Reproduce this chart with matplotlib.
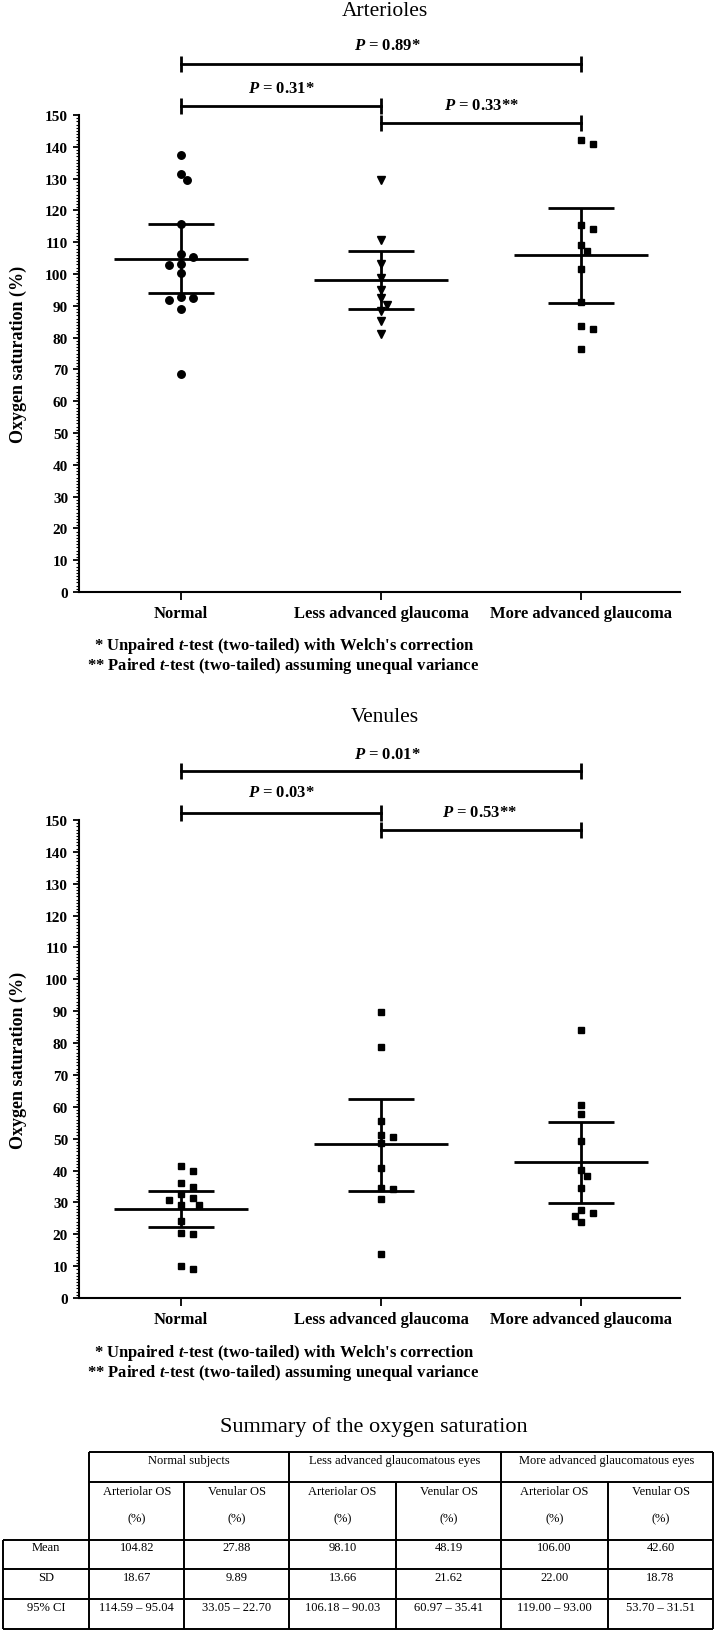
import numpy as np
import matplotlib
matplotlib.use("Agg")
import matplotlib.pyplot as plt
from matplotlib.ticker import MultipleLocator

plt.rcParams['font.family'] = ['Liberation Serif', 'DejaVu Serif']
plt.rcParams['mathtext.fontset'] = 'custom'
plt.rcParams['mathtext.it'] = 'Liberation Serif:italic:bold'
plt.rcParams['mathtext.rm'] = 'Liberation Serif:bold'
plt.rcParams['mathtext.bf'] = 'Liberation Serif:bold'

# ---- data ----
categories = ["Normal", "Less advanced glaucoma", "More advanced glaucoma"]

# arteriolar oxygen saturation (%)
art_normal = [137.4, 131.6, 129.5, 115.7, 106.4, 105.2, 103.3, 102.8, 100.4,
              92.7, 92.3, 91.7, 88.9, 68.4]
art_less = [129.5, 110.7, 103.3, 98.8, 95.0, 92.3, 90.4, 88.3, 85.2, 81.0]
art_more = [142.2, 140.9, 115.3, 114.1, 109.1, 107.2, 101.7, 91.2, 83.6, 82.6, 76.5]
# mean line, lower / upper 95% CI as drawn
art_mean = [104.8, 98.1, 105.9]
art_low = [93.9, 88.9, 91.0]
art_high = [115.7, 107.3, 120.8]
art_pvals = ["$P$ = 0.89*", "$P$ = 0.31*", "$P$ = 0.33**"]

# venular oxygen saturation (%)
ven_normal = [41.4, 39.8, 36.1, 34.7, 32.5, 31.4, 30.9, 29.3, 29.1, 24.2,
              20.4, 20.0, 10.1, 9.2]
ven_less = [89.8, 78.8, 55.6, 51.3, 50.4, 48.7, 40.8, 34.6, 34.1, 31.2, 13.9]
ven_more = [84.0, 60.7, 57.6, 49.2, 40.1, 38.2, 34.6, 27.7, 26.8, 25.7, 23.7]
ven_mean = [28.0, 48.2, 42.6]
ven_low = [22.2, 33.5, 29.9]
ven_high = [33.6, 62.5, 55.3]
ven_pvals = ["$P$ = 0.01*", "$P$ = 0.03*", "$P$ = 0.53**"]

footnotes = [r"* Unpaired $t$-test (two-tailed) with Welch's correction",
             r"** Paired $t$-test (two-tailed) assuming unequal variance"]

# summary table
tab_groups = ["Normal subjects", "Less advanced glaucomatous eyes",
              "More advanced glaucomatous eyes"]
tab_sub = ["Arteriolar OS", "Venular OS"]
tab_rows = ["Mean", "SD", "95% CI"]
tab_mean = ["104.82", "27.88", "98.10", "48.19", "106.00", "42.60"]
tab_sd = ["18.67", "9.89", "13.66", "21.62", "22.00", "18.78"]
tab_ci = ["114.59 \u2013 95.04", "33.05 \u2013 22.70", "106.18 \u2013 90.03",
          "60.97 \u2013 35.41", "119.00 \u2013 93.00", "53.70 \u2013 31.51"]

W, H = 718, 1633


def swarm(vals, yscale, xscale=200.0, diam=8.0, step=0.03):
    # simple dot-plot spreading: put each point as close to centre as it fits
    placed = []
    offs = []
    cands = [0.0]
    for i in range(1, 6):
        cands += [i * step, -i * step]
    for v in vals:
        for c in cands:
            if all(((c - pc) * xscale) ** 2 + ((v - pv) * yscale) ** 2 >= diam ** 2
                   for pc, pv in placed):
                break
        placed.append((c, v))
        offs.append(c)
    return np.array(offs)


def draw_panel(ax, groups, markers, msizes, means, lows, highs, pvals, br_y, txt_pos):
    yscale = 3.18
    for i, (vals, m, s) in enumerate(zip(groups, markers, msizes)):
        dx = swarm(vals, yscale)
        ax.plot(i + dx, vals, m, color='black', ms=s, ls='none', clip_on=False, zorder=3)
    for i in range(3):
        ax.hlines(means[i], i - 0.333, i + 0.333, color='black', lw=2)
        ax.hlines([lows[i], highs[i]], i - 0.163, i + 0.163, color='black', lw=2)
        ax.vlines(i, lows[i], highs[i], color='black', lw=2)
    spans = [(0, 2), (0, 1), (1, 2)]
    for (x0, x1), yb, lab, (tx, ty) in zip(spans, br_y, pvals, txt_pos):
        ax.plot([x0, x1], [yb, yb], color='black', lw=2, clip_on=False)
        ax.vlines([x0, x1], yb - 2.5, yb + 2.5, color='black', lw=2, clip_on=False)
        ax.text(tx, ty, lab, ha='center', va='center', fontsize=12,
                fontweight='bold', clip_on=False)

    ax.set_xlim(-0.5125, 2.495)
    ax.set_ylim(0, 150)
    ax.set_xticks([0, 1, 2])
    ax.set_xticklabels(categories, fontsize=12, fontweight='bold')
    ax.set_yticks(np.arange(0, 151, 10))
    ax.set_yticklabels([str(v) for v in range(0, 151, 10)], fontsize=11, fontweight='bold')
    ax.yaxis.set_minor_locator(MultipleLocator(1))
    ax.tick_params(axis='x', length=6, width=1.3, pad=3.5)
    ax.tick_params(axis='y', which='major', length=4, width=1.3, pad=3.5)
    ax.tick_params(axis='y', which='minor', length=2, width=0.8)
    for s in ['top', 'right']:
        ax.spines[s].set_visible(False)
    for s in ['left', 'bottom']:
        ax.spines[s].set_linewidth(1.5)
    ax.patch.set_alpha(0)


fig = plt.figure(figsize=(W / 100, H / 100), dpi=100)

ax1 = fig.add_axes([78.5 / W, 1 - 593 / H, 601.5 / W, 477 / H])
draw_panel(ax1, [art_normal, art_less, art_more], ['o', 'v', 's'], [5.4, 5.2, 5.0],
           art_mean, art_low, art_high, art_pvals,
           br_y=[166, 152.9, 147.5],
           txt_pos=[(1.03, 172), (0.5, 158.5), (1.5, 153)])

ax2 = fig.add_axes([78.5 / W, 1 - 1299 / H, 601.5 / W, 478 / H])
draw_panel(ax2, [ven_normal, ven_less, ven_more], ['s', 's', 's'], [5.0, 5.0, 5.0],
           ven_mean, ven_low, ven_high, ven_pvals,
           br_y=[165.4, 152.2, 147],
           txt_pos=[(1.03, 170.7), (0.5, 158.7), (1.49, 152.6)])

# overlay in pixel units for titles, footnotes and the table
ov = fig.add_axes([0, 0, 1, 1], facecolor='none')
ov.set_xlim(0, W)
ov.set_ylim(H, 0)
ov.axis('off')

ov.text(385, 12, "Arterioles", ha='center', va='center', fontsize=15.5)
ov.text(385, 718, "Venules", ha='center', va='center', fontsize=15.5)
for yc in [354.5, 1060]:
    ov.text(18, yc, "Oxygen saturation (%)", rotation=90, ha='center', va='center',
            fontsize=13, fontweight='bold')
for y0 in [646, 1353]:
    ov.text(94, y0, footnotes[0], ha='left', va='center', fontsize=12, fontweight='bold')
    ov.text(87, y0 + 20, footnotes[1], ha='left', va='center', fontsize=12, fontweight='bold')

ov.text(374, 1427, "Summary of the oxygen saturation", ha='center', va='center', fontsize=16)

cx = [2.7, 89.3, 184.3, 289.3, 396, 501, 608, 713]
ry = [1452.7, 1482.7, 1540.5, 1570.3, 1600.3, 1630]
lw = 1.4
ov.hlines(ry[:2], cx[1], cx[-1], color='black', lw=lw)
ov.hlines(ry[2:], cx[0], cx[-1], color='black', lw=lw)
ov.vlines([cx[1], cx[3], cx[5], cx[7]], ry[0], ry[-1], color='black', lw=lw)
ov.vlines([cx[2], cx[4], cx[6]], ry[1], ry[-1], color='black', lw=lw)
ov.vlines(cx[0], ry[2], ry[-1], color='black', lw=lw)

for g, name in enumerate(tab_groups):
    ov.text((cx[1 + 2 * g] + cx[3 + 2 * g]) / 2, ry[0] + 8, name,
            ha='center', va='center', fontsize=9)
for j in range(6):
    xc = (cx[1 + j] + cx[2 + j]) / 2
    ov.text(xc, ry[1] + 9, tab_sub[j % 2], ha='center', va='center', fontsize=9)
    ov.text(xc, ry[1] + 37, "(%)", ha='center', va='center', fontsize=9)
    for r, vals in enumerate([tab_mean, tab_sd, tab_ci]):
        ov.text(xc, ry[2 + r] + 8, vals[j], ha='center', va='center', fontsize=9)
for r, name in enumerate(tab_rows):
    ov.text((cx[0] + cx[1]) / 2, ry[2 + r] + 8, name, ha='center', va='center', fontsize=9)

fig.savefig("out.png", dpi=100)
